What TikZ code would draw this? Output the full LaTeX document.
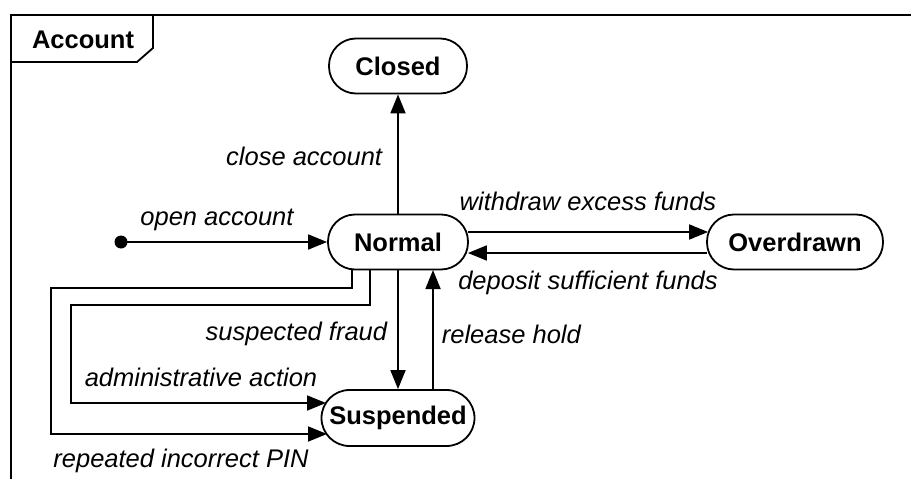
\documentclass[tikz,border=0pt]{standalone}
\usepackage{fontspec}
\setmainfont{Liberation Sans}
\usetikzlibrary{arrows.meta,calc}
\begin{document}
\begin{tikzpicture}[x=1pt,y=-1pt,
  line width=1.8pt,
  state/.style={draw, rounded corners=27pt, minimum height=55pt, inner sep=0pt,
    font=\fontsize{25.5}{30}\selectfont\bfseries},
  lbl/.style={font=\fontsize{25.5}{30}\selectfont\itshape, inner sep=0pt},
  arr/.style={-{Triangle[length=19pt,width=15pt]}}]
\useasboundingbox (0,0) rectangle (911,479);
% frame
\draw (911,15) -- (11,15) -- (11,479);
\draw (11,62) -- (137,62) -- (153,48) -- (153,15);
\node[font=\fontsize{25.5}{30}\selectfont\bfseries, inner sep=0pt] (acc) at (83,40) {Account};
% states
\node[state, minimum width=138pt] (closed) at (398,66) {Closed};
\node[state, minimum width=140pt] (normal) at (398,242) {Normal};
\node[state, minimum width=176pt] (over) at (795,242) {Overdrawn};
\node[state, minimum width=153pt, minimum height=56pt, rounded corners=28pt] (susp) at (398,418) {Suspended};
\fill (121,242) circle (6.5pt);
\coordinate (init) at (121,242);
% transitions
\draw[arr] (init) -- (normal.west);
\draw[arr] (normal.north) -- (closed.south);
\draw[arr] ($(normal.east)+(-1,-10)$) -- ($(over.west)+(2,-10)$);
\draw[arr] ($(over.west)+(1,11)$) -- ($(normal.east)+(-1,11)$);
\draw[arr] (normal.south) -- (susp.north);
\draw[arr] (433,390) -- (433,270);
\draw[arr] (370,270) -- (370,305) -- (71,305) -- (71,403) -- (326,403);
\draw[arr] (352,270) -- (352,288) -- (51,288) -- (51,434) -- (327,434);
% labels
\node[lbl, anchor=east] (l1) at (383,156) {close account};
\node[lbl] (l2) at (217,220) {open account};
\node[lbl] (l3) at (588,201) {withdraw excess funds};
\node[lbl] (l4) at (588,283) {deposit sufficient funds};
\node[lbl, anchor=east] (l5) at (388,334) {suspected fraud};
\node[lbl, anchor=west] (l6) at (441,334) {release hold};
\node[lbl] (l7) at (201,377) {administrative action};
\node[lbl] (l8) at (181,461) {repeated incorrect PIN};
\end{tikzpicture}
\end{document}
